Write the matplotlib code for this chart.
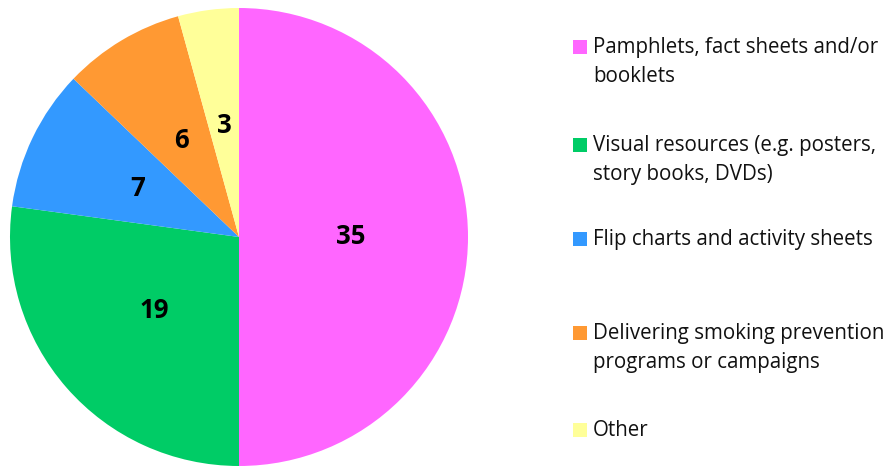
import matplotlib
matplotlib.use('Agg')
import matplotlib.pyplot as plt
from matplotlib.patches import Rectangle

categories = ['Pamphlets, fact sheets and/or\nbooklets',
              'Visual resources (e.g. posters,\nstory books, DVDs)',
              'Flip charts and activity sheets',
              'Delivering smoking prevention\nprograms or campaigns',
              'Other']
values = [35, 19, 7, 6, 3]
colors = ['#FF66FF', '#00CC66', '#3399FF', '#FF9933', '#FFFF99']

plt.rcParams['font.family'] = ['Open Sans', 'DejaVu Sans']

W, H = 893, 467
fig = plt.figure(figsize=(W / 100, H / 100), dpi=100)

# pie axes: centre (239, 237) px, radius 229 px
cx, cy, r = 239, 237, 229
ax = fig.add_axes([(cx - r) / W, (H - cy - r) / H, 2 * r / W, 2 * r / H])
wedges, texts = ax.pie(values, colors=colors, startangle=90, counterclock=False,
                       labels=[str(v) for v in values], labeldistance=0.49,
                       wedgeprops=dict(linewidth=0),
                       textprops=dict(fontsize=18.5, fontweight='bold', color='black',
                                      ha='center', va='center'))
ax.set_xlim(-1, 1)
ax.set_ylim(-1, 1)
ax.set_aspect('equal')
ax.axis('off')

# legend, one square marker per entry, text lines 29 px apart
marker_y = [47, 145, 239, 333, 430]
for lab, col, y in zip(categories, colors, marker_y):
    fig.patches.append(Rectangle((573 / W, (H - y - 7) / H), 14 / W, 14 / H,
                                 transform=fig.transFigure, facecolor=col,
                                 edgecolor='none'))
    for i, line in enumerate(lab.split('\n')):
        fig.text(593 / W, (H - (y + 6 + 29 * i)) / H, line, ha='left',
                 va='baseline', fontsize=14.8, color='#111111')

fig.savefig('out.png', dpi=100)
